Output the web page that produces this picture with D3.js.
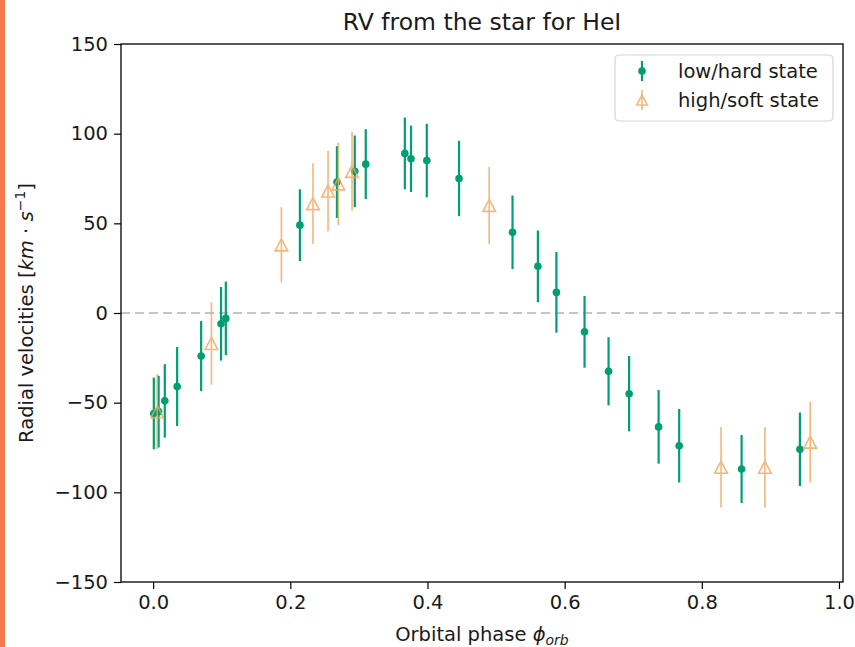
<!DOCTYPE html>
<html>
<head>
<meta charset="utf-8">
<script src="https://cdn.jsdelivr.net/npm/d3@7"></script>
<style>
  html, body { margin: 0; padding: 0; background: #fff; }
  svg { display: block; font-family: "DejaVu Sans", sans-serif; }
</style>
</head>
<body>
<svg id="chart" width="855" height="647"></svg>
<script>
// Radial velocities of the donor star from the He I line, folded on orbital phase.
const lowPhase = [0.001, 0.008, 0.017, 0.035, 0.070, 0.099, 0.106, 0.214, 0.268, 0.294, 0.310,
                  0.367, 0.376, 0.399, 0.446, 0.524, 0.561, 0.588, 0.629, 0.664, 0.694, 0.737,
                  0.767, 0.858, 0.943];
const lowRV    = [-56, -55, -49, -41, -24, -6, -3, 49, 73, 79, 83,
                  89, 86, 85, 75, 45, 26, 11.5, -10.5, -32.5, -45, -63.5,
                  -74, -87, -76];
const lowErr   = [20, 20, 20.5, 22, 19.5, 20.5, 20.5, 20, 20, 20, 19.5,
                  20, 18.5, 20.5, 21, 20.5, 20, 22.5, 20, 19, 21, 20.5,
                  20.5, 19, 20.5];

const highPhase = [0.006, 0.085, 0.187, 0.233, 0.255, 0.270, 0.290, 0.490, 0.828, 0.892, 0.958];
const highRV    = [-55, -17, 38, 61, 68, 72, 79, 60, -86, -86, -72];
const highErr   = [21, 23, 21, 22.5, 22.5, 23, 22, 21.5, 22.5, 22.5, 22.5];

const xTicks = [0.0, 0.2, 0.4, 0.6, 0.8, 1.0];
const yTicks = [-150, -100, -50, 0, 50, 100, 150];
const seriesNames = ["low/hard state", "high/soft state"];

const GREEN = "#009e73";
const ORANGE = "#f5a55a";

const svg = d3.select("#chart");
const W = 855, H = 647;
const m = { left: 121, right: 843, top: 44, bottom: 582 };

// frame strip on the left edge
svg.append("rect").attr("x", 0).attr("y", 0).attr("width", 5).attr("height", H).attr("fill", "#f27a4e");

// x domain: data extent with 5% padding
const allPhase = lowPhase.concat(highPhase);
const pmin = d3.min(allPhase), pmax = d3.max(allPhase);
const pad = (pmax - pmin) * 0.05;
const x = d3.scaleLinear().domain([pmin - pad, pmax + pad]).range([m.left, m.right]);
const y = d3.scaleLinear().domain([-150, 150]).range([m.bottom, m.top]);

const fmtMinus = s => s.replace("-", "\u2212");

// zero reference line
svg.append("line")
  .attr("x1", m.left).attr("x2", m.right)
  .attr("y1", y(0)).attr("y2", y(0))
  .attr("stroke", "#b3b3b3").attr("stroke-width", 1.6)
  .attr("stroke-dasharray", "9,5");

// low/hard series: error bars + filled dots
const low = lowPhase.map((p, i) => ({ p, v: lowRV[i], e: lowErr[i] }));
const high = highPhase.map((p, i) => ({ p, v: highRV[i], e: highErr[i] }));

const gLow = svg.append("g");
gLow.selectAll("line").data(low).join("line")
  .attr("x1", d => x(d.p)).attr("x2", d => x(d.p))
  .attr("y1", d => y(d.v - d.e)).attr("y2", d => y(d.v + d.e))
  .attr("stroke", GREEN).attr("stroke-width", 2.2);
gLow.selectAll("circle").data(low).join("circle")
  .attr("cx", d => x(d.p)).attr("cy", d => y(d.v)).attr("r", 3.8)
  .attr("fill", GREEN);

// high/soft series: error bars + open triangles
const tri = (cx, cy, s) => `M${cx},${cy - s}L${cx + s * 1.05},${cy + s}L${cx - s * 1.05},${cy + s}Z`;
const gHigh = svg.append("g").attr("opacity", 0.8);
gHigh.selectAll("line").data(high).join("line")
  .attr("x1", d => x(d.p)).attr("x2", d => x(d.p))
  .attr("y1", d => y(d.v - d.e)).attr("y2", d => y(d.v + d.e))
  .attr("stroke", ORANGE).attr("stroke-width", 1.6);
gHigh.selectAll("path").data(high).join("path")
  .attr("d", d => tri(x(d.p), y(d.v), 6))
  .attr("fill", "none").attr("stroke", ORANGE).attr("stroke-width", 1.6);

// axes
const xAxis = d3.axisBottom(x).tickValues(xTicks).tickFormat(d3.format(".1f")).tickSize(7).tickPadding(6);
const yAxis = d3.axisLeft(y).tickValues(yTicks).tickFormat(d => fmtMinus(String(d))).tickSize(7).tickPadding(6);

const gx = svg.append("g").attr("transform", `translate(0,${m.bottom})`).call(xAxis);
const gy = svg.append("g").attr("transform", `translate(${m.left},0)`).call(yAxis);
[gx, gy].forEach(g => {
  g.select(".domain").remove();
  g.selectAll(".tick line").attr("stroke", "#000").attr("stroke-width", 1.2);
  g.selectAll(".tick text").attr("font-size", 19.5).attr("fill", "#1a1a1a")
    .attr("font-family", "DejaVu Sans, sans-serif");
});

// plot frame
svg.append("rect")
  .attr("x", m.left).attr("y", m.top)
  .attr("width", m.right - m.left).attr("height", m.bottom - m.top)
  .attr("fill", "none").attr("stroke", "#000").attr("stroke-width", 1.3);

// title
svg.append("text").attr("x", (m.left + m.right) / 2).attr("y", 30)
  .attr("text-anchor", "middle").attr("font-size", 23.5).attr("fill", "#1a1a1a")
  .text("RV from the star for HeI");

// x label
const xl = svg.append("text").attr("x", (m.left + m.right) / 2).attr("y", 641)
  .attr("text-anchor", "middle").attr("font-size", 19.5).attr("fill", "#1a1a1a");
xl.append("tspan").text("Orbital phase ");
xl.append("tspan").attr("font-style", "italic").text("\u03d5");
xl.append("tspan").attr("font-style", "italic").attr("font-size", 14).attr("dy", 4).text("orb");

// y label
const yl = svg.append("text").attr("transform", `translate(33,${(m.top + m.bottom) / 2}) rotate(-90)`)
  .attr("text-anchor", "middle").attr("font-size", 19.5).attr("fill", "#1a1a1a");
yl.append("tspan").text("Radial velocities [");
yl.append("tspan").attr("font-style", "italic").text("km");
yl.append("tspan").text(" \u00b7 ");
yl.append("tspan").attr("font-style", "italic").text("s");
yl.append("tspan").attr("font-size", 14).attr("dy", -8).text("\u22121");
yl.append("tspan").attr("dy", 8).text("]");

// legend
const lg = svg.append("g");
lg.append("rect").attr("x", 615).attr("y", 55).attr("width", 218).attr("height", 66)
  .attr("rx", 4).attr("fill", "#fff").attr("fill-opacity", 0.8)
  .attr("stroke", "#d6d6d6").attr("stroke-width", 1.2);
const ly = [71, 100];
const mx = 642;
// low/hard entry
lg.append("line").attr("x1", mx).attr("x2", mx).attr("y1", ly[0] - 10).attr("y2", ly[0] + 10)
  .attr("stroke", GREEN).attr("stroke-width", 2.2);
lg.append("circle").attr("cx", mx).attr("cy", ly[0]).attr("r", 3.8).attr("fill", GREEN);
// high/soft entry
const lh = lg.append("g").attr("opacity", 0.8);
lh.append("line").attr("x1", mx).attr("x2", mx).attr("y1", ly[1] - 10).attr("y2", ly[1] + 10)
  .attr("stroke", ORANGE).attr("stroke-width", 1.6);
lh.append("path").attr("d", tri(mx, ly[1], 5))
  .attr("fill", "none").attr("stroke", ORANGE).attr("stroke-width", 1.6);
lg.selectAll("text.lab").data(seriesNames).join("text").attr("class", "lab")
  .attr("x", 678).attr("y", (d, i) => ly[i] + 7)
  .attr("font-size", 19.5).attr("fill", "#1a1a1a").text(d => d);
</script>
</body>
</html>
